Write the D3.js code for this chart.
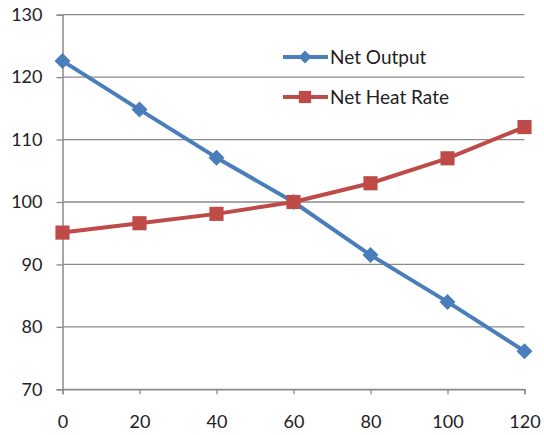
<!DOCTYPE html>
<html>
<head>
<meta charset="utf-8">
<script src="https://cdn.jsdelivr.net/npm/d3@7"></script>
<style>
  html, body { margin: 0; padding: 0; background: #fff; }
  svg { display: block; }
  text { font-family: Lato, "Open Sans", sans-serif; fill: #222; }
</style>
</head>
<body>
<svg id="chart" width="544" height="435"></svg>
<script>
// Load position (x) and normalized values (%)
const xValues = [0, 20, 40, 60, 80, 100, 120];
const netOutput = [122.6, 114.8, 107.1, 100, 91.5, 84.0, 76.1];
const netHeatRate = [95.1, 96.6, 98.1, 100, 103.0, 107.0, 112.0];
const xTicks = [0, 20, 40, 60, 80, 100, 120];
const yTicks = [70, 80, 90, 100, 110, 120, 130];
const seriesNames = ["Net Output", "Net Heat Rate"];

const svg = d3.select("#chart");
const margin = { left: 62.5, right: 19.5, top: 14.7, bottom: 45.7 };
const W = 544, H = 435;

const x = d3.scaleLinear().domain([0, 120]).range([margin.left, W - margin.right]);
const y = d3.scaleLinear().domain([70, 130]).range([H - margin.bottom, margin.top]);

const gridColor = "#8a8a8a";
const blue = "#4A7EBB";
const red = "#BE4B48";

// Square diamond marker (rotated square) centered on 0,0
function diamondPath(r) {
  return `M0,${-r}L${r},0L0,${r}L${-r},0Z`;
}

// Horizontal gridlines
svg.append("g")
  .selectAll("line")
  .data(yTicks)
  .join("line")
  .attr("x1", x(0)).attr("x2", x(120))
  .attr("y1", d => y(d)).attr("y2", d => y(d))
  .attr("stroke", gridColor).attr("stroke-width", 1.3);

// Y axis
const yAxis = svg.append("g")
  .attr("transform", `translate(${x(0)},0)`)
  .call(d3.axisLeft(y).tickValues(yTicks).tickSize(6).tickPadding(14).tickFormat(d3.format("d")));
yAxis.select(".domain").attr("stroke", gridColor).attr("stroke-width", 1.5);
yAxis.selectAll(".tick line").attr("stroke", gridColor).attr("stroke-width", 1.3);
yAxis.selectAll("text").attr("font-size", 18).style("font-family", "Lato, sans-serif").attr("fill", "#222");

// X axis
const xAxis = svg.append("g")
  .attr("transform", `translate(0,${y(70)})`)
  .call(d3.axisBottom(x).tickValues(xTicks).tickSize(5).tickPadding(21).tickFormat(d3.format("d")));
xAxis.select(".domain").attr("stroke", gridColor).attr("stroke-width", 1.5);
xAxis.selectAll(".tick line").attr("stroke", gridColor).attr("stroke-width", 1.3);
xAxis.selectAll("text").attr("font-size", 18).style("font-family", "Lato, sans-serif").attr("fill", "#222");

const line = d3.line().x(d => x(d[0])).y(d => y(d[1]));

function drawSeries(values, color, marker) {
  const pts = xValues.map((v, i) => [v, values[i]]);
  svg.append("path")
    .datum(pts)
    .attr("d", line)
    .attr("fill", "none")
    .attr("stroke", color)
    .attr("stroke-width", 4)
    .attr("stroke-linejoin", "round");
  svg.append("g")
    .selectAll("path")
    .data(pts)
    .join("path")
    .attr("transform", d => `translate(${x(d[0])},${y(d[1])})`)
    .attr("d", marker)
    .attr("fill", color);
}

const squareMarker = d3.symbol().type(d3.symbolSquare).size(200)();
drawSeries(netOutput, blue, diamondPath(8));
drawSeries(netHeatRate, red, squareMarker);

// Legend
const legend = svg.append("g");
const legendItems = [
  { name: seriesNames[0], color: blue, marker: diamondPath(6.5), yPos: 57 },
  { name: seriesNames[1], color: red, marker: d3.symbol().type(d3.symbolSquare).size(150)(), yPos: 97 }
];
legendItems.forEach(it => {
  legend.append("line")
    .attr("x1", 283).attr("x2", 328)
    .attr("y1", it.yPos).attr("y2", it.yPos)
    .attr("stroke", it.color).attr("stroke-width", 4);
  legend.append("path")
    .attr("transform", `translate(305,${it.yPos})`)
    .attr("d", it.marker)
    .attr("fill", it.color);
  legend.append("text")
    .attr("x", 330).attr("y", it.yPos)
    .attr("dy", "0.36em")
    .attr("font-size", 19)
    .text(it.name);
});
</script>
</body>
</html>
